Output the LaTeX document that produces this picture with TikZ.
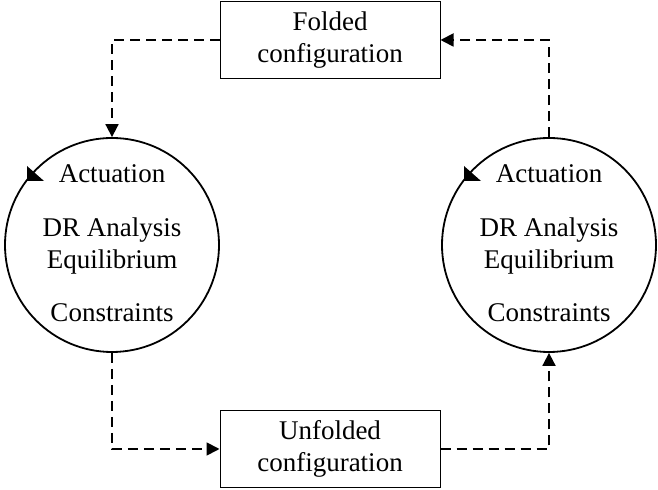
\documentclass[tikz,border=0pt]{standalone}
\usepackage{fontspec}
\setmainfont{Liberation Serif}
\usetikzlibrary{arrows.meta, positioning, calc}

\begin{document}
\begin{tikzpicture}[font=\fontsize{13.5}{16}\selectfont,
    config/.style={draw, line width=0.5pt, rectangle, align=center, minimum width=110pt, minimum height=38.5pt, inner sep=0pt},
    loopnode/.style={draw, line width=0.9pt, circle, minimum size=107pt, inner sep=0pt},
    flow/.style={dashed, dash pattern=on 5pt off 3pt, line width=0.9pt, -{Triangle[length=6.5pt,width=6.5pt]}}]
    \useasboundingbox (0,0) rectangle (329pt,-245pt);

    \node[config] (folded) at (165pt,-20pt) {Folded\\configuration};
    \node[config] (unfolded) at (165pt,-224.5pt) {Unfolded\\configuration};
    \node[loopnode] (L) at (56pt,-122.5pt) {};
    \node[loopnode] (R) at (274.5pt,-122.5pt) {};

    % texts inside the circles
    \foreach \c in {L,R} {
        \node[anchor=base] (\c act) at ($(\c.center)+(0,31pt)$) {Actuation};
        \node[anchor=base] (\c dr) at ($(\c.center)+(0,4pt)$) {DR Analysis};
        \node[anchor=base] (\c eq) at ($(\c.center)+(0,-12pt)$) {Equilibrium};
        \node[anchor=base] (\c con) at ($(\c.center)+(0,-38.5pt)$) {Constraints};
        \fill ($(\c.center)+(-42.5pt,39.5pt)$) -- ++(0,-7.5pt) -- ++(8.5pt,0) -- cycle;
    }

    \draw[flow] (folded.west) -| (L.north);
    \draw[flow] (L.south) |- (unfolded.west);
    \draw[flow] (unfolded.east) -| (R.south);
    \draw[flow] (R.north) |- (folded.east);
\end{tikzpicture}
\end{document}
